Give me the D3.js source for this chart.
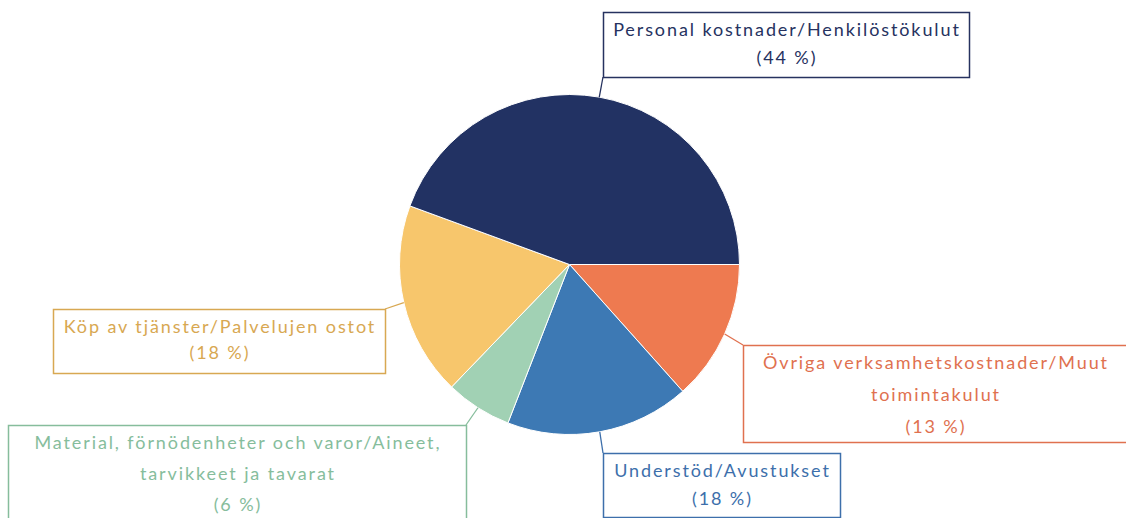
<!DOCTYPE html>
<html>
<head>
<meta charset="utf-8">
<script src="https://cdn.jsdelivr.net/npm/d3@7"></script>
<style>
  body { margin: 0; background: #fff; }
  svg { display: block; }
</style>
</head>
<body>
<div id="chart"></div>
<script>
// data (share of costs)
var categories = [
  "Övriga verksamhetskostnader/Muut toimintakulut",
  "Understöd/Avustukset",
  "Material, förnödenheter och varor/Aineet, tarvikkeet ja tavarat",
  "Köp av tjänster/Palvelujen ostot",
  "Personal kostnader/Henkilöstökulut"
];
var values = [13.4, 17.5, 6.3, 18.4, 44.4];
var percentLabels = ["13 %", "18 %", "6 %", "18 %", "44 %"];
var labelLines = [
  ["Övriga verksamhetskostnader/Muut", "toimintakulut"],
  ["Understöd/Avustukset"],
  ["Material, förnödenheter och varor/Aineet,", "tarvikkeet ja tavarat"],
  ["Köp av tjänster/Palvelujen ostot"],
  ["Personal kostnader/Henkilöstökulut"]
];
var colors = ["#ee7a50", "#3d79b4", "#a1d1b4", "#f7c66c", "#223263"];
var textColors = ["#e0714f", "#3d6fab", "#86bd9c", "#d8a852", "#26325f"];

// label box layout: x, y, w, h, line height, anchor corner for leader
var boxes = [
  {x: 743, y: 345, w: 400, h: 97, lh: 32, ax: "l", ay: "t", cx: 935},
  {x: 603, y: 453, w: 237, h: 64, lh: 28, ax: "l", ay: "t"},
  {x: 8, y: 425, w: 458, h: 100, lh: 31, ax: "r", ay: "t"},
  {x: 53, y: 309, w: 332, h: 64, lh: 26, ax: "r", ay: "t"},
  {x: 603, y: 12, w: 366, h: 65, lh: 28, ax: "l", ay: "b"}
];

var W = 1126, H = 518;
var cx = 569.5, cy = 264.5, r = 170;
var spacing = 1.9;

var svg = d3.select("#chart").append("svg")
  .attr("width", W)
  .attr("height", H);

var pie = d3.pie()
  .sort(null)
  .value(function(d) { return d; })
  .startAngle(Math.PI / 2)
  .endAngle(Math.PI / 2 + 2 * Math.PI);

var arcs = pie(values);

var arc = d3.arc().innerRadius(0).outerRadius(r);
var edge = d3.arc().innerRadius(r).outerRadius(r);

var g = svg.append("g").attr("transform", "translate(" + cx + "," + cy + ")");

g.selectAll("path.slice")
  .data(arcs)
  .enter()
  .append("path")
    .attr("class", "slice")
    .attr("d", arc)
    .attr("fill", function(d, i) { return colors[i]; })
    .attr("stroke", "#fff")
    .attr("stroke-width", 1);

// leader lines from slice edge to the label box
svg.selectAll("line.leader")
  .data(arcs)
  .enter()
  .append("line")
    .attr("class", "leader")
    .attr("x1", function(d) { return cx + edge.centroid(d)[0]; })
    .attr("y1", function(d) { return cy + edge.centroid(d)[1]; })
    .attr("x2", function(d, i) { var b = boxes[i]; return b.ax == "l" ? b.x : b.x + b.w; })
    .attr("y2", function(d, i) { var b = boxes[i]; return b.ay == "t" ? b.y : b.y + b.h; })
    .attr("stroke", function(d, i) { return textColors[i]; })
    .attr("stroke-width", 1.3);

var labels = svg.selectAll("g.label")
  .data(categories)
  .enter()
  .append("g")
    .attr("class", "label");

labels.append("rect")
  .attr("x", function(d, i) { return boxes[i].x + 0.5; })
  .attr("y", function(d, i) { return boxes[i].y + 0.5; })
  .attr("width", function(d, i) { return boxes[i].w; })
  .attr("height", function(d, i) { return boxes[i].h; })
  .attr("fill", "#fff")
  .attr("stroke", function(d, i) { return textColors[i]; })
  .attr("stroke-width", 1.5);

labels.each(function(d, i) {
  var b = boxes[i];
  var lines = labelLines[i].concat(["(" + percentLabels[i] + ")"]);
  var tx = (b.cx || (b.x + b.w / 2)) + spacing / 2;
  var t = d3.select(this).append("text")
    .attr("x", tx)
    .attr("y", b.y + 24)
    .attr("text-anchor", "middle")
    .attr("font-family", "Lato, 'Open Sans', sans-serif")
    .attr("font-size", "18px")
    .attr("letter-spacing", spacing + "px")
    .attr("fill", textColors[i]);
  lines.forEach(function(l, j) {
    t.append("tspan")
      .attr("x", tx)
      .attr("dy", j == 0 ? 0 : b.lh)
      .text(l);
  });
});
</script>
</body>
</html>
